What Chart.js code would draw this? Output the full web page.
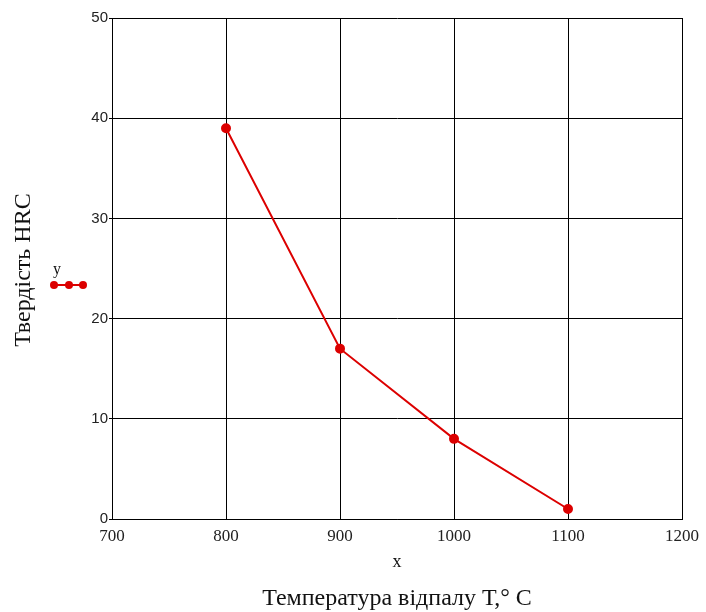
<!DOCTYPE html>
<html>
<head>
<meta charset="utf-8">
<script src="https://cdn.jsdelivr.net/npm/chart.js@4.4.0/dist/chart.umd.min.js"></script>
<style>
  html, body { margin: 0; padding: 0; background: #fff; }
</style>
</head>
<body>
<canvas id="myChart" width="706" height="612"></canvas>
<script>
// chart data
const temperatures = [800, 900, 1000, 1100];
const hardness = [39, 17, 8, 1];
const xRange = [700, 1200];
const yRange = [0, 50];
const seriesName = 'y';
const xName = 'x';
const xTitle = 'Температура відпалу Т,° С';
const yTitle = 'Твердість HRC';

const serif = '"Liberation Serif", "Times New Roman", serif';
const sans = '"Liberation Sans", Arial, sans-serif';
const red = '#dc0000';

// axis titles + the little legend at the left, drawn by hand
const extraText = {
  id: 'extraText',
  afterDraw(chart) {
    const ctx = chart.ctx;
    const area = chart.chartArea;
    const cx = (area.left + area.right) / 2;
    ctx.save();
    ctx.fillStyle = '#111';
    ctx.textAlign = 'center';
    ctx.textBaseline = 'middle';

    ctx.font = '18px ' + serif;
    ctx.fillText(xName, cx, 562);

    ctx.font = '24px ' + serif;
    ctx.fillText(xTitle, cx, 599);

    ctx.save();
    ctx.translate(24, 270);
    ctx.rotate(-Math.PI / 2);
    ctx.fillText(yTitle, 0, 0);
    ctx.restore();

    // legend
    ctx.font = '16px ' + serif;
    ctx.fillText(seriesName, 57, 270);
    ctx.strokeStyle = red;
    ctx.lineWidth = 2;
    ctx.beginPath();
    ctx.moveTo(52, 285);
    ctx.lineTo(86, 285);
    ctx.stroke();
    ctx.fillStyle = red;
    [54, 69, 83].forEach(function (x) {
      ctx.beginPath();
      ctx.arc(x, 285, 4, 0, Math.PI * 2);
      ctx.fill();
    });
    ctx.restore();
  }
};

const ctx = document.getElementById('myChart').getContext('2d');
const chart = new Chart(ctx, {
  type: 'scatter',
  data: {
    datasets: [{
      label: seriesName,
      data: temperatures.map((t, i) => ({ x: t, y: hardness[i] })),
      showLine: true,
      borderColor: red,
      backgroundColor: red,
      borderWidth: 2,
      pointRadius: 4,
      pointHoverRadius: 4
    }]
  },
  options: {
    responsive: false,
    animation: false,
    layout: { padding: { top: 18, right: 23, left: 0, bottom: 0 } },
    plugins: {
      legend: { display: false },
      tooltip: { enabled: false }
    },
    scales: {
      x: {
        type: 'linear',
        min: xRange[0],
        max: xRange[1],
        ticks: {
          stepSize: 100,
          color: '#222',
          font: { family: serif, size: 17 },
          padding: 7,
          callback: function (v) { return String(v); }
        },
        grid: { color: '#000', lineWidth: 1, drawTicks: false },
        border: { color: '#000', width: 1 },
        afterFit: function (scale) { scale.height = 93; }
      },
      y: {
        type: 'linear',
        min: yRange[0],
        max: yRange[1],
        ticks: {
          stepSize: 10,
          color: '#222',
          font: { family: sans, size: 15 },
          padding: 1,
          callback: function (v) { return String(v); }
        },
        grid: { color: '#000', lineWidth: 1, tickLength: 3 },
        border: { color: '#000', width: 1 },
        afterFit: function (scale) { scale.width = 112; }
      }
    }
  },
  plugins: [extraText]
});
</script>
</body>
</html>
